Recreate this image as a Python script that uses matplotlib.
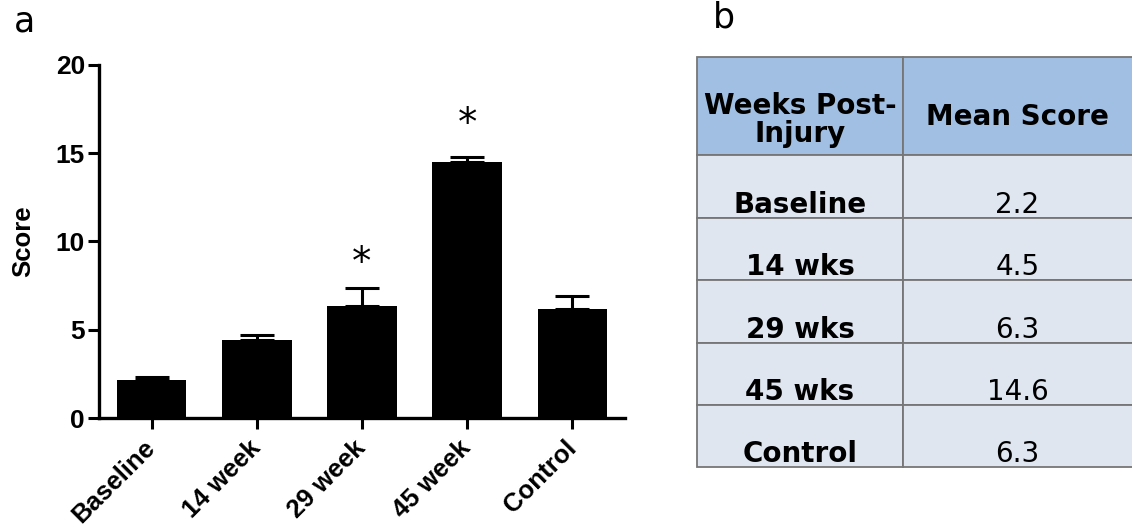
import matplotlib
matplotlib.use("Agg")
import matplotlib.pyplot as plt
from matplotlib.patches import Rectangle

# ---- data ----
categories = ["Baseline", "14 week", "29 week", "45 week", "Control"]
scores = [2.15, 4.4, 6.35, 14.5, 6.15]
errors = [0.2, 0.3, 1.0, 0.3, 0.75]
star_heights = [None, None, 8.8, 16.65, None]   # significance markers (value axis)
yticks = [0, 5, 10, 15, 20]

table_header = ["Weeks Post-\nInjury", "Mean Score"]
table_weeks = ["Baseline", "14 wks", "29 wks", "45 wks", "Control"]
table_means = ["2.2", "4.5", "6.3", "14.6", "6.3"]

W, H = 1132, 529
fig = plt.figure(figsize=(W / 100, H / 100), dpi=100)

# ---- panel a ----
ax = fig.add_axes([99 / W, 1 - 418 / H, (625 - 99) / W, (418 - 65) / H])
x = list(range(len(categories)))
ax.bar(x, scores, width=0.66, color="black", zorder=2)
ax.errorbar(x, scores, yerr=[[0] * len(errors), errors], fmt="none",
            ecolor="black", elinewidth=2.2, capsize=12, capthick=2.2, zorder=1)
for xi, sy in zip(x, star_heights):
    if sy is not None:
        ax.text(xi, sy, "*", ha="center", va="center",
                fontsize=28, family="DejaVu Sans", color="black")

ax.set_xlim(-0.5, 4.5)
ax.set_ylim(0, 20)
ax.set_yticks(yticks)
ax.set_xticks(x)
ax.set_xticklabels(categories, rotation=45, ha="right", va="center",
                   rotation_mode="anchor")
for lab in ax.get_xticklabels() + ax.get_yticklabels():
    lab.set_family("Liberation Sans")
    lab.set_fontweight("bold")
for lab in ax.get_xticklabels():
    lab.set_fontsize(18.5)
for lab in ax.get_yticklabels():
    lab.set_fontsize(19)
ax.tick_params(axis="both", width=2.2, length=8, color="black")
ax.tick_params(axis="y", pad=2)
ax.tick_params(axis="x", pad=11)
for side in ["top", "right"]:
    ax.spines[side].set_visible(False)
for side in ["left", "bottom"]:
    ax.spines[side].set_linewidth(2.4)
ax.set_ylabel("Score", fontsize=18.5, fontweight="bold", family="Liberation Sans")
ax.yaxis.set_label_coords(-0.121, 0.5)

fig.text(25 / W, 1 - 22 / H, "a", fontsize=25, family="DejaVu Sans",
         ha="center", va="center")
fig.text(724 / W, 1 - 18 / H, "b", fontsize=25, family="DejaVu Sans",
         ha="center", va="center")

# ---- panel b (table) ----
tx = fig.add_axes([0, 0, 1, 1])
tx.set_xlim(0, W)
tx.set_ylim(H, 0)
tx.axis("off")

col_edges = [697, 903, 1140]
row_edges = [57, 155, 218, 280, 343, 405, 467]
header_color = "#a0bfe2"
body_color = "#dfe6f0"
edge = "#767676"

for r in range(len(row_edges) - 1):
    for c in range(len(col_edges) - 1):
        tx.add_patch(Rectangle((col_edges[c], row_edges[r]),
                               col_edges[c + 1] - col_edges[c],
                               row_edges[r + 1] - row_edges[r],
                               facecolor=header_color if r == 0 else body_color,
                               edgecolor=edge, linewidth=1.3))

cx = [(col_edges[0] + col_edges[1]) / 2, (903 + 1132) / 2]
fs = 20
tx.text(cx[0], 106, "Weeks Post-", ha="center", va="center", fontsize=fs,
        fontweight="bold", family="DejaVu Sans")
tx.text(cx[0], 134, "Injury", ha="center", va="center", fontsize=fs,
        fontweight="bold", family="DejaVu Sans")
tx.text(cx[1], 117, table_header[1], ha="center", va="center", fontsize=fs,
        fontweight="bold", family="DejaVu Sans")
for i, (wk, mn) in enumerate(zip(table_weeks, table_means)):
    yb = row_edges[i + 2] - 5
    tx.text(cx[0], yb, wk, ha="center", va="baseline", fontsize=fs,
            fontweight="bold", family="DejaVu Sans")
    tx.text(cx[1], yb, mn, ha="center", va="baseline", fontsize=fs,
            family="DejaVu Sans")

fig.savefig("out.png", dpi=100)
